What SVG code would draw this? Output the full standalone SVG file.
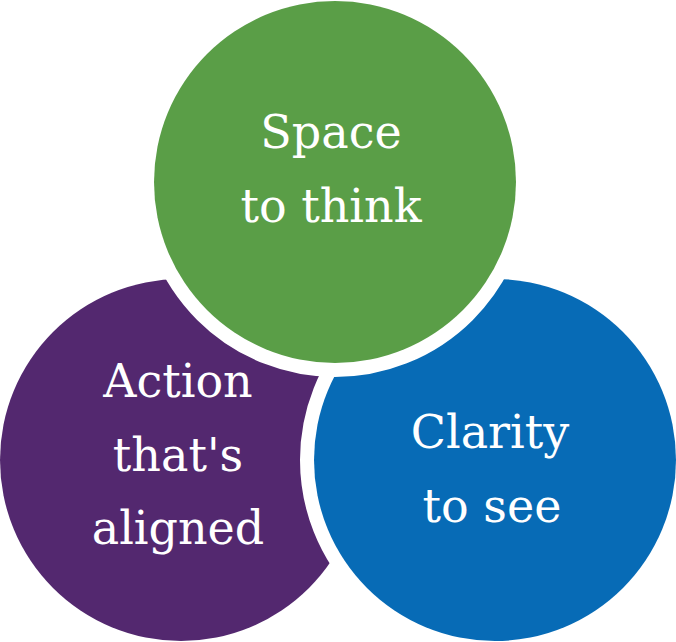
<svg xmlns="http://www.w3.org/2000/svg" width="676" height="642" viewBox="0 0 676 642">
  <style>
    .c { stroke: #ffffff; stroke-width: 28; paint-order: stroke; }
    .t { font-family: "DejaVu Serif", "Liberation Serif", serif; font-size: 46px; fill: #ffffff; text-anchor: middle; }
  </style>
  <rect width="676" height="642" fill="#ffffff"/>
  <g id="action">
    <circle class="c" cx="181" cy="460" r="181" fill="#53286F"/>
    <text class="t" x="178" y="397">Action</text>
    <text class="t" x="178" y="471">that's</text>
    <text class="t" x="178" y="544">aligned</text>
  </g>
  <g id="clarity">
    <circle class="c" cx="495" cy="460" r="181" fill="#076BB6"/>
    <text class="t" x="490" y="448">Clarity</text>
    <text class="t" x="492" y="522">to see</text>
  </g>
  <g id="space">
    <circle class="c" cx="335" cy="182" r="181" fill="#5A9E47"/>
    <text class="t" x="331" y="148">Space</text>
    <text class="t" x="331" y="222">to think</text>
  </g>
  <g id="connectors"></g>
</svg>
